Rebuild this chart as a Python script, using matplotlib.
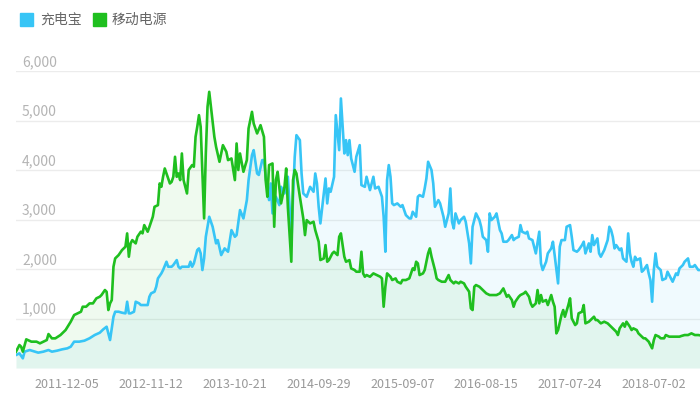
import numpy as np
import pandas as pd
import matplotlib
matplotlib.use("Agg")
import matplotlib.pyplot as plt
import matplotlib.transforms as mtransforms
from matplotlib.patches import Rectangle

plt.rcParams['font.family'] = ['Noto Sans CJK SC', 'DejaVu Sans']

# weekly index since 2011-05-09
start_date = "2011-05-09"
n_weeks = 400

series_names = ["充电宝", "移动电源"]
tick_labels = ["2011-12-05", "2012-11-12", "2013-10-21", "2014-09-29",
               "2015-09-07", "2016-08-15", "2017-07-24", "2018-07-02"]
y_ticks = [1000, 2000, 3000, 4000, 5000, 6000]

green_weeks = [
    0, 2, 3, 4, 6, 9, 12, 14, 17, 18,
    19, 21, 23, 26, 29, 32, 34, 36, 38, 39,
    41, 43, 45, 47, 49, 50, 52, 53, 54, 55,
    56, 57, 58, 60, 62, 64, 65, 66, 67, 68,
    70, 71, 73, 74, 75, 77, 78, 80, 81, 83,
    84, 85, 86, 87, 88, 90, 91, 92, 93, 94,
    95, 96, 97, 98, 99, 100, 101, 103, 104, 105,
    106, 107, 108, 109, 110, 111, 112, 113, 114, 116,
    117, 119, 121, 123, 124, 126, 128, 129, 130, 131,
    133, 135, 136, 138, 139, 141, 143, 145, 146, 147,
    148, 150, 151, 152, 153, 155, 157, 158, 159, 161,
    162, 163, 164, 166, 168, 169, 170, 172, 174, 175,
    177, 178, 180, 181, 182, 183, 185, 186, 188, 189,
    190, 192, 193, 195, 196, 198, 199, 201, 202, 203,
    204, 205, 207, 209, 211, 213, 214, 215, 216, 217,
    219, 220, 222, 223, 225, 226, 228, 230, 232, 233,
    234, 235, 236, 238, 239, 241, 242, 243, 245, 246,
    247, 249, 251, 253, 254, 256, 257, 259, 260, 262,
    263, 265, 266, 267, 268, 269, 271, 273, 275, 277,
    279, 281, 283, 285, 287, 288, 290, 291, 292, 294,
    295, 297, 298, 300, 301, 302, 304, 305, 306, 307,
    308, 310, 311, 313, 314, 315, 316, 317, 319, 320,
    321, 323, 324, 325, 327, 328, 329, 331, 332, 333,
    335, 336, 338, 339, 340, 342, 344, 346, 347, 348,
    350, 351, 352, 353, 355, 356, 357, 359, 360, 361,
    363, 364, 366, 367, 368, 370, 372, 373, 374, 376,
    377, 379, 380, 382, 384, 386, 388, 389, 391, 393,
    395, 397, 399, 400,
]
green_values = [
    330, 464, 430, 330, 579, 532, 532, 498, 550, 565,
    686, 599, 599, 666, 767, 935, 1070, 1104, 1137, 1238,
    1238, 1305, 1305, 1407, 1440, 1474, 1575, 1540, 1171, 1305,
    1373, 2046, 2214, 2281, 2382, 2450, 2719, 2248, 2517, 2584,
    2517, 2652, 2753, 2720, 2887, 2753, 2850, 3055, 3257, 3290,
    3728, 3660, 3863, 4031, 3930, 3728, 3760, 3863, 4267, 3863,
    3930, 3796, 4334, 3796, 3661, 3526, 4000, 4099, 4066, 4670,
    4873, 5108, 4873, 3930, 3022, 4334, 5276, 5579, 5276, 4670,
    4469, 4166, 4502, 4368, 4200, 4233, 3796, 4536, 4000, 4334,
    3964, 4200, 4839, 5175, 4940, 4738, 4906, 4670, 3796, 3459,
    4099, 4132, 2853, 3800, 3964, 3325, 3661, 4031, 3240, 2147,
    3796, 4000, 3930, 3459, 3022, 2685, 2988, 2921, 2955, 2786,
    2551, 2181, 2214, 2483, 2147, 2180, 2315, 2349, 2281, 2652,
    2719, 2248, 2147, 2180, 2012, 1979, 1945, 1945, 2349, 1911,
    1844, 1878, 1844, 1911, 1878, 1844, 1810, 1238, 1642, 1911,
    1844, 1777, 1810, 1743, 1709, 1777, 1777, 1810, 2012, 1979,
    2147, 2113, 1878, 1911, 1979, 2315, 2416, 2248, 1979, 1810,
    1777, 1743, 1743, 1878, 1777, 1709, 1743, 1709, 1743, 1709,
    1642, 1541, 1205, 1171, 1642, 1676, 1642, 1575, 1508, 1474,
    1474, 1474, 1508, 1608, 1440, 1474, 1373, 1238, 1340, 1440,
    1474, 1508, 1541, 1440, 1306, 1238, 1306, 1575, 1306, 1474,
    1340, 1373, 1272, 1474, 1340, 1238, 700, 767, 1070, 1171,
    1036, 1272, 1407, 1003, 868, 902, 1104, 1137, 1272, 902,
    935, 969, 1036, 969, 969, 902, 935, 902, 868, 834,
    767, 733, 666, 801, 902, 834, 935, 834, 767, 801,
    767, 700, 633, 600, 600, 532, 397, 565, 666, 633,
    600, 600, 666, 633, 633, 633, 633, 646, 666, 666,
    700, 666, 666, 660,
]

blue_weeks = [
    0, 2, 4, 5, 8, 11, 13, 16, 19, 21,
    24, 27, 30, 32, 34, 37, 40, 43, 46, 49,
    51, 53, 55, 56, 57, 58, 60, 62, 64, 65,
    66, 67, 69, 70, 72, 73, 75, 77, 78, 79,
    81, 82, 83, 85, 86, 88, 89, 91, 92, 94,
    95, 96, 97, 99, 101, 102, 103, 104, 106, 107,
    108, 109, 110, 111, 113, 115, 117, 118, 120, 122,
    124, 126, 128, 129, 131, 133, 135, 136, 138, 139,
    141, 142, 144, 145, 146, 148, 149, 150, 152, 154,
    155, 157, 159, 160, 161, 162, 163, 164, 166, 167,
    168, 170, 172, 174, 175, 176, 177, 178, 179, 181,
    182, 183, 184, 186, 187, 189, 190, 192, 193, 194,
    195, 196, 198, 199, 201, 202, 204, 205, 207, 209,
    210, 212, 214, 215, 216, 217, 218, 219, 220, 221,
    223, 225, 226, 228, 230, 231, 232, 234, 235, 236,
    238, 239, 240, 241, 243, 244, 245, 247, 248, 250,
    251, 253, 254, 255, 256, 257, 259, 260, 262, 263,
    265, 266, 267, 269, 271, 272, 273, 275, 276, 277,
    278, 280, 281, 283, 284, 285, 287, 288, 290, 291,
    292, 294, 295, 296, 298, 299, 300, 302, 303, 304,
    306, 307, 308, 310, 311, 313, 314, 315, 317, 318,
    319, 321, 322, 324, 325, 326, 328, 329, 331, 332,
    333, 335, 336, 337, 338, 340, 341, 342, 344, 346,
    347, 348, 349, 350, 351, 353, 354, 355, 357, 358,
    359, 360, 361, 362, 363, 365, 366, 367, 369, 370,
    371, 372, 373, 374, 375, 377, 378, 380, 381, 383,
    384, 386, 387, 388, 390, 391, 393, 394, 396, 397,
    399, 400,
]
blue_values = [
    262, 296, 195, 330, 363, 330, 310, 330, 363, 330,
    350, 377, 397, 430, 532, 532, 552, 600, 666, 713,
    780, 834, 565, 800, 1036, 1137, 1137, 1117, 1104, 1339,
    1104, 1104, 1137, 1339, 1306, 1272, 1272, 1272, 1440, 1508,
    1541, 1642, 1810, 1911, 1979, 2147, 2046, 2046, 2080, 2180,
    2046, 2012, 2046, 2046, 2046, 2147, 2046, 2113, 2382, 2416,
    2315, 1979, 2214, 2651, 3055, 2853, 2517, 2584, 2281, 2416,
    2349, 2786, 2651, 2685, 3190, 3022, 3392, 3796, 4300, 4401,
    3930, 3900, 4200, 4200, 3863, 3392, 3728, 3123, 3459, 3291,
    3661, 3526, 3863, 3257, 2483, 3459, 4267, 4704, 4603, 3930,
    3526, 3459, 3660, 3560, 3930, 3729, 3257, 2921, 3224, 3829,
    3325, 3627, 3560, 3863, 5108, 4401, 5445, 4334, 4603, 4300,
    4603, 4233, 3964, 4267, 4502, 3695, 3660, 3863, 3594, 3863,
    3627, 3661, 3459, 3055, 2349, 3796, 4099, 3863, 3325, 3291,
    3325, 3257, 3291, 3089, 3022, 3022, 3156, 3055, 3459, 3493,
    3459, 3627, 3829, 4166, 3997, 3728, 3257, 3392, 3325, 3055,
    2853, 3123, 3627, 2954, 2820, 3123, 2921, 2988, 3055, 2954,
    2517, 2113, 2853, 3123, 2988, 2853, 2651, 2584, 2349, 3123,
    2988, 3055, 3123, 2786, 2719, 2551, 2551, 2584, 2685, 2584,
    2618, 2651, 2887, 2753, 2719, 2753, 2618, 2584, 2450, 2315,
    2753, 2113, 1979, 2147, 2315, 2416, 2551, 2281, 1709, 2450,
    2584, 2584, 2853, 2887, 2651, 2382, 2349, 2382, 2483, 2551,
    2315, 2517, 2349, 2685, 2483, 2618, 2315, 2248, 2382, 2584,
    2853, 2786, 2651, 2416, 2483, 2382, 2416, 2214, 2147, 2719,
    2315, 2147, 2046, 2248, 2180, 2214, 1945, 1979, 2080, 1911,
    1777, 1339, 1979, 2315, 2046, 1979, 1777, 1810, 1945, 1810,
    1743, 1911, 1878, 2012, 2080, 2147, 2214, 2046, 2046, 2080,
    1979, 1979,
]

BLUE = "#37c5f6"
GREEN = "#1fbf1f"

start = pd.Timestamp(start_date)
def to_dates(weeks):
    return start + pd.to_timedelta(np.array(weeks) * 7, unit="D")

blue_x = to_dates(blue_weeks)
green_x = to_dates(green_weeks)

fig = plt.figure(figsize=(7.0, 3.97), dpi=100)
ax = fig.add_axes([16 / 700, 29 / 397, 684 / 700, 297 / 397])

ax.fill_between(blue_x, blue_values, 0, color=BLUE, alpha=0.07, lw=0)
ax.fill_between(green_x, green_values, 0, color=GREEN, alpha=0.07, lw=0)
ax.plot(blue_x, blue_values, color=BLUE, lw=1.9, solid_joinstyle="round")
ax.plot(green_x, green_values, color=GREEN, lw=1.9, solid_joinstyle="round")

ax.set_xlim(start, start + pd.Timedelta(days=7 * n_weeks))
ax.set_ylim(0, 6000)

for s in ax.spines.values():
    s.set_visible(False)

ax.set_yticks(y_ticks)
ax.set_yticklabels([])
ax.tick_params(axis="y", length=0)
ax.grid(axis="y", color="#ececec", lw=1)
ax.set_axisbelow(True)

# y labels sit just above their grid line, inside the plot
trans = mtransforms.offset_copy(ax.get_yaxis_transform(), fig=fig, x=0, y=1.5, units="points")
for v in y_ticks:
    ax.text(6 / 684, v, f"{v:,}", transform=trans, ha="left", va="bottom",
            fontsize=10, color="#b4b4b4")

ax.set_xticks(pd.to_datetime(tick_labels))
ax.set_xticklabels(tick_labels, fontsize=9, color="#999999")
ax.tick_params(axis="x", length=0, pad=7)

# legend
colors = [BLUE, GREEN]
lx = [20, 93]
tx = [40, 112]
for i, name in enumerate(series_names):
    fig.patches.append(Rectangle((lx[i] / 700, 1 - 26 / 397), 13 / 700, 13 / 397,
                                 transform=fig.transFigure, color=colors[i]))
    fig.text(tx[i] / 700, 1 - 19.5 / 397, name, fontsize=10, color="#666666",
             ha="left", va="center")

fig.savefig("out.png", dpi=100)
